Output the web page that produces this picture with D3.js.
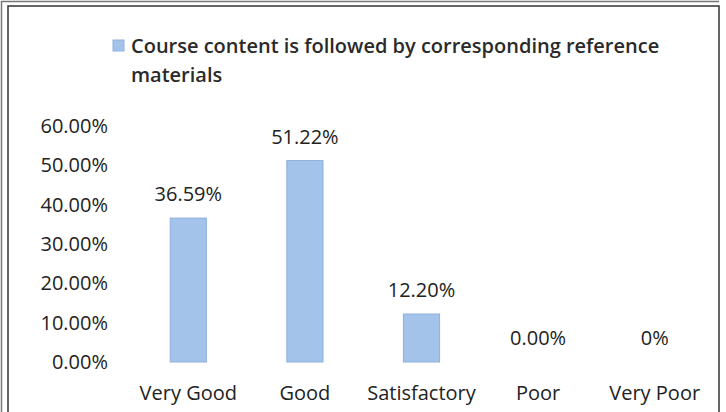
<!DOCTYPE html>
<html>
<head>
<meta charset="utf-8">
<script src="https://cdn.jsdelivr.net/npm/d3@7"></script>
<style>
  body { margin: 0; background: #fff; }
  svg { display: block; font-family: "Open Sans", sans-serif; }
</style>
</head>
<body>
<div id="chart"></div>
<script>
// data
const categories = [`Very Good`, `Good`, `Satisfactory`, `Poor`, `Very Poor`];
const values = [36.59, 51.22, 12.20, 0, 0];
const valueLabels = [`36.59%`, `51.22%`, `12.20%`, `0.00%`, `0%`];
const yTicks = [0, 10, 20, 30, 40, 50, 60];
const seriesName = [`Course content is followed by corresponding reference`, `materials`];

const W = 726, H = 412;
const margin = {left: 130, right: 13, top: 126, bottom: 50};

let svg = d3.select(`#chart`).append(`svg`)
  .attr(`width`, W)
  .attr(`height`, H);

// page edge left over from the scan
svg.append(`path`)
  .attr(`d`, `M1.5,${H} V1.5 H719`)
  .attr(`fill`, `none`)
  .attr(`stroke`, `#777`)
  .attr(`stroke-width`, 1.5);

// chart frame
svg.append(`rect`)
  .attr(`x`, 8).attr(`y`, 6)
  .attr(`width`, 711).attr(`height`, 420)
  .attr(`fill`, `none`)
  .attr(`stroke`, `#333`)
  .attr(`stroke-width`, 1.5);

let x = d3.scaleBand()
  .domain(categories)
  .range([margin.left, W - margin.right])
  .paddingInner(0.69)
  .paddingOuter(0.345);

let y = d3.scaleLinear()
  .domain([0, 60])
  .range([H - margin.bottom, margin.top]);

// y axis labels only, no line
let yAxis = svg.append(`g`)
  .attr(`transform`, `translate(108,0)`)
  .call(d3.axisLeft(y).tickValues(yTicks).tickSize(0).tickPadding(0)
    .tickFormat(d => d3.format(`.2f`)(d) + `%`));
yAxis.select(`.domain`).remove();
yAxis.selectAll(`text`)
  .attr(`font-size`, 20)
  .attr(`font-family`, `"Open Sans", sans-serif`)
  .attr(`fill`, `#222`);

// x axis labels
let xAxis = svg.append(`g`)
  .attr(`transform`, `translate(0,${H - margin.bottom})`)
  .call(d3.axisBottom(x).tickSize(0).tickPadding(24));
xAxis.select(`.domain`).remove();
xAxis.selectAll(`text`)
  .attr(`font-size`, 20)
  .attr(`font-family`, `"Open Sans", sans-serif`)
  .attr(`fill`, `#222`);

// bars
svg.selectAll(`.bar`)
  .data(values)
  .join(`rect`)
  .attr(`class`, `bar`)
  .attr(`x`, (d, i) => x(categories[i]))
  .attr(`y`, d => y(d))
  .attr(`width`, x.bandwidth())
  .attr(`height`, d => y(0) - y(d))
  .attr(`fill`, `#a3c3ea`)
  .attr(`stroke`, `#8db0de`)
  .attr(`stroke-width`, d => d > 0 ? 1 : 0);

// value labels
svg.selectAll(`.valueLabel`)
  .data(values)
  .join(`text`)
  .attr(`class`, `valueLabel`)
  .attr(`x`, (d, i) => x(categories[i]) + x.bandwidth() / 2)
  .attr(`y`, d => y(d) - 17)
  .attr(`text-anchor`, `middle`)
  .attr(`font-size`, 20)
  .attr(`fill`, `#222`)
  .text((d, i) => valueLabels[i]);

// legend
let legend = svg.append(`g`);
legend.append(`rect`)
  .attr(`x`, 113).attr(`y`, 40)
  .attr(`width`, 11).attr(`height`, 11)
  .attr(`fill`, `#a3c3ea`)
  .attr(`stroke`, `#8db0de`);
legend.selectAll(`text`)
  .data(seriesName)
  .join(`text`)
  .attr(`x`, 131)
  .attr(`y`, (d, i) => 53 + i * 29)
  .attr(`font-size`, 20)
  .attr(`font-weight`, 600)
  .attr(`fill`, `#2a2a2a`)
  .text(d => d);
</script>
</body>
</html>
